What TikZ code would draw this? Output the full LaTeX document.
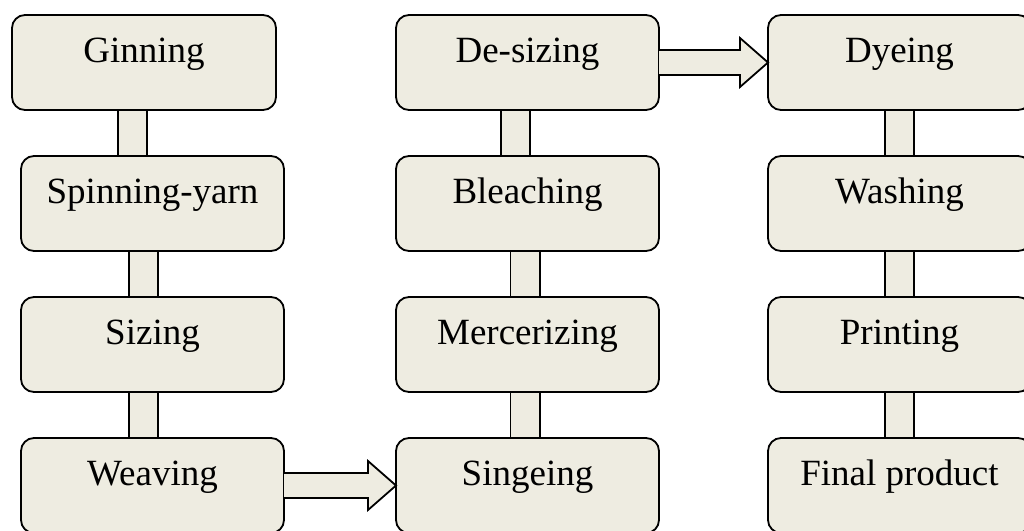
\documentclass[tikz,border=0pt]{standalone}
\usepackage{fontspec}
\setmainfont{Liberation Serif}
\definecolor{stepfill}{RGB}{238, 236, 225}
\usetikzlibrary{positioning, backgrounds}

\begin{document}
\begin{tikzpicture}[
        x=1pt, y=-1pt,
        node distance=46pt,
        box/.style={rectangle, rounded corners=13pt, draw=black, line width=1.8pt,
                    fill=stepfill, minimum width=263pt, minimum height=95pt,
                    inner sep=0pt, outer sep=0pt, text height=20pt, text depth=20pt,
                    align=center, font=\fontsize{37pt}{44pt}\selectfont},
        bar/.style={line width=1.8pt, double=stepfill, double distance=27.4pt},
        bigarrow/.style={draw=black, line width=1.8pt, fill=stepfill, line join=miter}
      ]
        \useasboundingbox (0,0) rectangle (1024,530);
        % first column
        \node[box, minimum width=264pt] (gin) at (144,62.5) {Ginning};
        \node[box] (spin) at (152.5,203.5) {Spinning-yarn};
        \node[box, below=of spin] (sizing) {Sizing};
        \node[box, below=of sizing] (weave) {Weaving};
        % second column
        \node[box] (desize) at (527.5,62.5) {De-sizing};
        \node[box, below=of desize] (bleach) {Bleaching};
        \node[box, below=of bleach] (merc) {Mercerizing};
        \node[box, below=of merc] (singe) {Singeing};
        % third column
        \node[box] (dye) at (899.5,62.5) {Dyeing};
        \node[box, below=of dye] (wash) {Washing};
        \node[box, below=of wash] (print) {Printing};
        \node[box, below=of print] (final) {Final product};
        % links
        \begin{scope}[on background layer]
          \draw[bar] ([xshift=-11.5pt]gin.south) -- ([xshift=-11.5pt]gin.south |- spin.north);
          \draw[bar] ([xshift=-9pt]spin.south) -- ([xshift=-9pt]sizing.north);
          \draw[bar] ([xshift=-9pt]sizing.south) -- ([xshift=-9pt]weave.north);
          \draw[bar] ([xshift=-12pt]desize.south) -- ([xshift=-12pt]bleach.north);
          \draw[bar] ([xshift=-2.5pt]bleach.south) -- ([xshift=-2.5pt]merc.north);
          \draw[bar] ([xshift=-2.5pt]merc.south) -- ([xshift=-2.5pt]singe.north);
          \draw[bar] (dye.south) -- (wash.north);
          \draw[bar] (wash.south) -- (print.north);
          \draw[bar] (print.south) -- (final.north);
        \end{scope}
        \path[bigarrow] ([yshift=12.5pt]weave.east) -- ([xshift=-28pt,yshift=12.5pt]singe.west)
          -- ([xshift=-28pt,yshift=24.5pt]singe.west) -- (singe.west)
          -- ([xshift=-28pt,yshift=-24.5pt]singe.west) -- ([xshift=-28pt,yshift=-12.5pt]singe.west)
          -- ([yshift=-12.5pt]weave.east);
        \path[bigarrow] ([yshift=12.5pt]desize.east) -- ([xshift=-28pt,yshift=12.5pt]dye.west)
          -- ([xshift=-28pt,yshift=24.5pt]dye.west) -- (dye.west)
          -- ([xshift=-28pt,yshift=-24.5pt]dye.west) -- ([xshift=-28pt,yshift=-12.5pt]dye.west)
          -- ([yshift=-12.5pt]desize.east);
      \end{tikzpicture}
\end{document}
